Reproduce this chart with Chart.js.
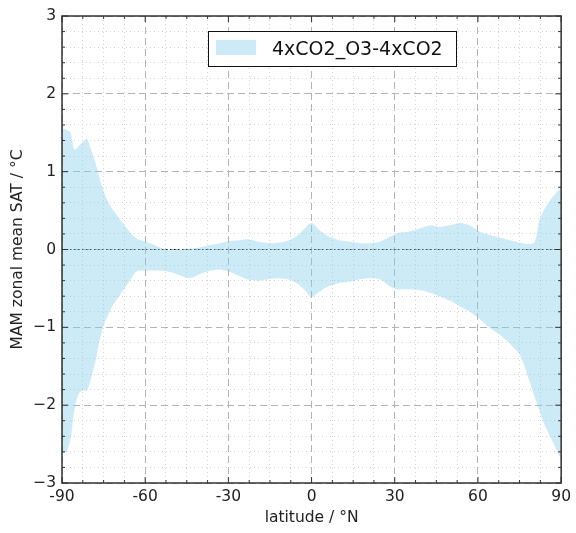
<!DOCTYPE html>
<html>
<head>
<meta charset="utf-8">
<script src="https://cdn.jsdelivr.net/npm/chart.js@4.4.1/dist/chart.umd.min.js"></script>
<style>
  html, body { margin: 0; padding: 0; background: #fff; }
  #wrap { width: 576px; height: 533px; position: relative; }
</style>
</head>
<body>
<div id="wrap"><canvas id="satChart"></canvas></div>
<script>
// широти (°N) та межі розкиду (°C)
const latitudes = [-90, -88.5, -87, -85.5, -84, -82.5, -81, -79.5, -78, -76.5, -75, -73.5, -72, -70,
  -67.5, -65, -63, -60, -57.5, -55, -52.5, -50, -47.5, -44, -40, -36, -33, -29.5, -26, -22.5, -19,
  -15, -11.5, -8, -5, -2.5, 0, 2.5, 5, 7.5, 10, 14, 18, 21, 24.5, 28, 31, 35, 39, 43, 46, 50, 53.5,
  57, 60.5, 64, 68, 71.5, 75, 78.5, 80.5, 82, 84, 86, 88, 90];
const upperValues = [1.55, 1.54, 1.51, 1.28, 1.33, 1.38, 1.42, 1.28, 1.12, 0.92, 0.75, 0.62, 0.53, 0.43,
  0.31, 0.20, 0.14, 0.10, 0.07, 0.03, 0.00, -0.01, 0.00, 0.01, 0.03, 0.06, 0.08, 0.11, 0.12, 0.13, 0.10,
  0.08, 0.09, 0.12, 0.18, 0.27, 0.34, 0.26, 0.19, 0.15, 0.12, 0.10, 0.08, 0.08, 0.10, 0.16, 0.21, 0.23,
  0.27, 0.31, 0.29, 0.31, 0.34, 0.31, 0.23, 0.19, 0.15, 0.12, 0.09, 0.07, 0.10, 0.36, 0.52, 0.63, 0.72, 0.79];
const lowerValues = [-2.62, -2.60, -2.45, -2.06, -1.85, -1.81, -1.81, -1.65, -1.45, -1.18, -0.98, -0.85,
  -0.74, -0.63, -0.50, -0.37, -0.28, -0.27, -0.27, -0.27, -0.28, -0.30, -0.33, -0.37, -0.31, -0.27, -0.26,
  -0.29, -0.34, -0.39, -0.40, -0.38, -0.37, -0.39, -0.44, -0.52, -0.61, -0.55, -0.49, -0.46, -0.43, -0.41,
  -0.38, -0.37, -0.38, -0.47, -0.51, -0.51, -0.52, -0.56, -0.60, -0.66, -0.73, -0.80, -0.89, -1.00, -1.10,
  -1.21, -1.35, -1.68, -1.90, -2.05, -2.25, -2.40, -2.55, -2.70];
const zeroLine = [{ x: -90, y: 0 }, { x: 90, y: 0 }];
const seriesLabel = '4xCO2_O3-4xCO2';
const xTickLabels = [-90, -60, -30, 0, 30, 60, 90];
const yTickLabels = [-3, -2, -1, 0, 1, 2, 3];

const fillColor = 'rgba(135, 206, 235, 0.42)';
const fontFamily = '"DejaVu Sans", sans-serif';

const isMajorX = v => xTickLabels.some(t => Math.abs(t - v) < 1e-6);
const isMajorY = v => yTickLabels.some(t => Math.abs(t - v) < 1e-6);

// Рамка, засічки всередину та легенда в рамці
const framePlugin = {
    id: 'frame',
    afterDraw(chart) {
        const { ctx, chartArea: a, scales } = chart;
        ctx.save();
        ctx.strokeStyle = '#333';
        ctx.lineWidth = 1;
        scales.x.ticks.forEach(t => {
            const px = scales.x.getPixelForValue(t.value);
            const len = isMajorX(t.value) ? 6 : 3;
            ctx.beginPath();
            ctx.moveTo(px, a.bottom); ctx.lineTo(px, a.bottom - len);
            ctx.moveTo(px, a.top); ctx.lineTo(px, a.top + len);
            ctx.stroke();
        });
        scales.y.ticks.forEach(t => {
            const py = scales.y.getPixelForValue(t.value);
            const len = isMajorY(t.value) ? 6 : 3;
            ctx.beginPath();
            ctx.moveTo(a.left, py); ctx.lineTo(a.left + len, py);
            ctx.moveTo(a.right, py); ctx.lineTo(a.right - len, py);
            ctx.stroke();
        });
        ctx.lineWidth = 1.5;
        ctx.strokeRect(a.left, a.top, a.right - a.left, a.bottom - a.top);

        // легенда
        const bx = a.left + 146, by = a.top + 15, bw = 248, bh = 35;
        ctx.fillStyle = '#fff';
        ctx.fillRect(bx, by, bw, bh);
        ctx.lineWidth = 1;
        ctx.strokeStyle = '#111';
        ctx.strokeRect(bx + 0.5, by + 0.5, bw, bh);
        ctx.fillStyle = fillColor;
        ctx.fillRect(bx + 8, by + 9, 40, 15);
        ctx.fillStyle = '#111';
        ctx.font = '19px ' + fontFamily;
        ctx.textBaseline = 'alphabetic';
        ctx.fillText(seriesLabel, bx + 64, by + 24);
        ctx.restore();
    }
};

new Chart(document.getElementById('satChart').getContext('2d'), {
    type: 'line',
    plugins: [framePlugin],
    data: {
        datasets: [
            {
                label: seriesLabel,
                data: latitudes.map((lat, i) => ({ x: lat, y: upperValues[i] })),
                backgroundColor: fillColor,
                borderWidth: 0,
                pointRadius: 0,
                tension: 0.3,
                fill: '+1'
            },
            {
                label: 'lower',
                data: latitudes.map((lat, i) => ({ x: lat, y: lowerValues[i] })),
                borderWidth: 0,
                pointRadius: 0,
                tension: 0.3,
                fill: false
            },
            {
                label: 'zero',
                data: zeroLine,
                borderColor: '#000',
                borderWidth: 1,
                borderDash: [1.5, 2.5],
                pointRadius: 0,
                fill: false
            }
        ]
    },
    options: {
        responsive: true,
        maintainAspectRatio: false,
        animation: false,
        layout: { padding: { top: 16, right: 14, left: 0, bottom: 0 } },
        plugins: {
            legend: { display: false },
            tooltip: { enabled: false }
        },
        scales: {
            x: {
                type: 'linear',
                min: -90,
                max: 90,
                afterFit: s => { s.height = 50; },
                border: {
                    display: false,
                    dash: ctx => isMajorX(ctx.tick.value) ? [7, 4] : [1, 3]
                },
                grid: {
                    drawTicks: false,
                    color: ctx => isMajorX(ctx.tick.value) ? '#b3b3b3' : '#d4d4d4',
                    lineWidth: 1
                },
                ticks: {
                    stepSize: 7.5,
                    autoSkip: false,
                    maxRotation: 0,
                    padding: 5,
                    color: '#222',
                    font: { family: fontFamily, size: 15.5 },
                    callback: v => isMajorX(v) ? String(Math.round(v)) : ''
                },
                title: {
                    display: true,
                    text: 'latitude / °N',
                    color: '#222',
                    font: { family: fontFamily, size: 15.5 },
                    padding: { top: 2, bottom: 6 }
                }
            },
            y: {
                type: 'linear',
                min: -3,
                max: 3,
                afterFit: s => { s.width = 62; },
                border: {
                    display: false,
                    dash: ctx => isMajorY(ctx.tick.value) ? [7, 4] : [1, 3]
                },
                grid: {
                    drawTicks: false,
                    color: ctx => isMajorY(ctx.tick.value) ? '#b3b3b3' : '#d4d4d4',
                    lineWidth: 1
                },
                ticks: {
                    stepSize: 0.2,
                    autoSkip: false,
                    padding: 6,
                    color: '#222',
                    font: { family: fontFamily, size: 15.5 },
                    callback: v => {
                        if (!isMajorY(v)) return '';
                        const r = Math.round(v);
                        return r < 0 ? '\u2212' + Math.abs(r) : String(r);
                    }
                },
                title: {
                    display: true,
                    text: 'MAM zonal mean SAT / °C',
                    color: '#222',
                    font: { family: fontFamily, size: 15.5 },
                    padding: { top: 9, bottom: 0 }
                }
            }
        }
    }
});
</script>
</body>
</html>
